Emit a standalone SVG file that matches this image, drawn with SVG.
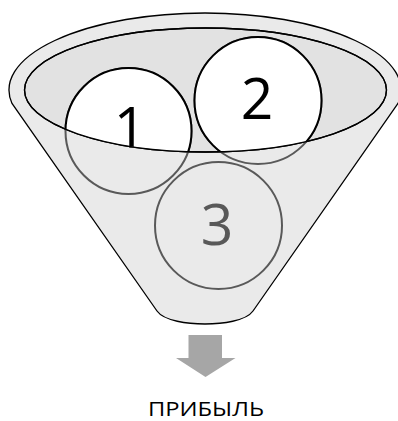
<svg xmlns="http://www.w3.org/2000/svg" width="398" height="421" viewBox="0 0 398 421">
  <defs>
    <style>
      .num { font-family: "Open Sans", "Liberation Sans", sans-serif; font-size: 57px; text-anchor: middle; }
      .lbl { font-family: "Open Sans", "Liberation Sans", sans-serif; font-size: 20px; fill: #000; }
      .ringDim { fill: none; stroke: #595959; stroke-width: 2; }
      .ringTop { fill: #fff; stroke: #000; stroke-width: 2; }
    </style>
    <clipPath id="above">
      <path d="M0,0 H398 V90 H386.5 A181 62 0 0 1 24.5 90 H0 Z"/>
    </clipPath>
  </defs>

  <g id="funnel">
    <path d="M12,103.4 A196 77 0 1 1 398,103.4 L253,311 C246,321 222,324 205,324 C188,324 164,321 157,311 Z" fill="#eaeaea" stroke="#000" stroke-width="1.3"/>
    <ellipse cx="205.5" cy="90" rx="181" ry="62" fill="#e2e2e2" stroke="#000" stroke-width="1.3"/>
  </g>

  <g id="circle3">
    <circle cx="218.5" cy="225.5" r="63.5" class="ringDim"/>
    <text x="217" y="245" class="num" fill="#595959">3</text>
  </g>

  <g id="circle1">
    <circle cx="128.5" cy="131" r="63" class="ringDim"/>
    <text x="130" y="148" class="num" fill="#555">1</text>
    <g clip-path="url(#above)">
      <circle cx="128.5" cy="131" r="63" class="ringTop"/>
      <text x="130" y="148" class="num" fill="#000">1</text>
    </g>
  </g>

  <g id="circle2">
    <circle cx="258" cy="100.5" r="63.5" class="ringDim"/>
    <text x="257" y="119" class="num" fill="#555">2</text>
    <g clip-path="url(#above)">
      <circle cx="258" cy="100.5" r="63.5" class="ringTop"/>
      <text x="257" y="119" class="num" fill="#000">2</text>
    </g>
  </g>

  <g id="rim">
    <ellipse cx="205.5" cy="90" rx="181" ry="62" fill="none" stroke="#000" stroke-width="1.3"/>
  </g>

  <g id="connectors">
    <path id="arrow" d="M188.5,335 H222 V358 H235.5 L205.5,377 L176,358 H188.5 Z" fill="#a6a6a6"/>
  </g>

  <g id="label">
    <text x="148" y="416" class="lbl" textLength="116" lengthAdjust="spacingAndGlyphs">ПРИБЫЛЬ</text>
  </g>
</svg>
